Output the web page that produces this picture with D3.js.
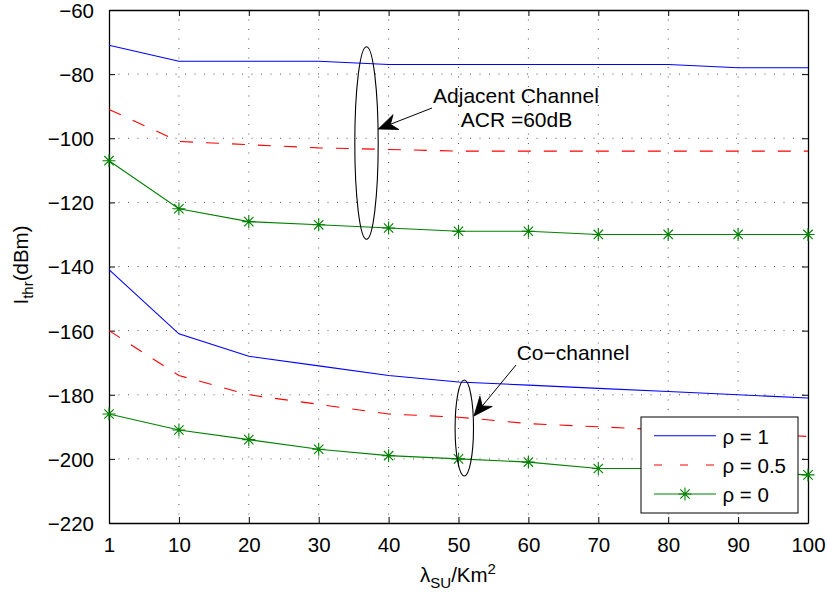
<!DOCTYPE html>
<html>
<head>
<meta charset="utf-8">
<script src="https://cdn.jsdelivr.net/npm/d3@7"></script>
<style>
  html, body { margin: 0; padding: 0; background: #fff; }
  svg { display: block; }
  text { font-family: "Liberation Sans", Arial, Helvetica, sans-serif; fill: #000; }
</style>
</head>
<body>
<svg id="chart" width="828" height="599"></svg>
<script>
// ---- data ----
const xLabels = ["1", "10", "20", "30", "40", "50", "60", "70", "80", "90", "100"];
const yTicks = [-220, -200, -180, -160, -140, -120, -100, -80, -60];

const adjRho1  = [-71, -76, -76, -76, -77, -77, -77, -77, -77, -78, -78];
const adjRho05 = [-91, -101, -102, -103, -103.5, -104, -104, -104, -104, -104, -104];
const adjRho0  = [-107, -122, -126, -127, -128, -129, -129, -130, -130, -130, -130];

const coRho1  = [-141, -161, -168, -171, -174, -176, -177, -178, -179, -180, -181];
const coRho05 = [-160, -174, -180, -183, -186, -187, -189, -190, -191, -192, -193];
const coRho0  = [-186, -191, -194, -197, -199, -200, -201, -203, -203, -204, -205];

const seriesNames = ["ρ = 1", "ρ = 0.5", "ρ = 0"];

// ---- layout ----
const svg = d3.select("#chart");
const L = 109, R = 808, T = 10, B = 523;
const FS = 20.5;
const SFS = 15;

const x = d3.scalePoint().domain(xLabels).range([L, R]).padding(0);
const y = d3.scaleLinear().domain([-220, -60]).range([B, T]);

const styles = [
  { color: "#0000ff", dash: null, marker: false },
  { color: "#ff0000", dash: "13,13", marker: false },
  { color: "#008000", dash: null, marker: true }
];

// grid
const grid = svg.append("g");
xLabels.forEach((d, i) => {
  if (i === 0 || i === xLabels.length - 1) return;
  grid.append("line").attr("x1", x(d)).attr("x2", x(d)).attr("y1", T).attr("y2", B)
    .attr("stroke", "#555").attr("stroke-width", 1).attr("stroke-dasharray", "1,8.5");
});
yTicks.forEach(v => {
  if (v === -220 || v === -60) return;
  grid.append("line").attr("x1", L).attr("x2", R).attr("y1", y(v)).attr("y2", y(v))
    .attr("stroke", "#555").attr("stroke-width", 1).attr("stroke-dasharray", "1,8.5");
});

// axes (inside ticks on all sides)
const tl = 6;
const axB = svg.append("g").attr("transform", `translate(0,${B})`)
  .call(d3.axisBottom(x).tickSizeInner(-tl).tickSizeOuter(0));
const axT = svg.append("g").attr("transform", `translate(0,${T})`)
  .call(d3.axisTop(x).tickSizeInner(-tl).tickSizeOuter(0).tickFormat(""));
const axL = svg.append("g").attr("transform", `translate(${L},0)`)
  .call(d3.axisLeft(y).tickValues(yTicks).tickSizeInner(-tl).tickSizeOuter(0).tickPadding(tl + 9).tickFormat(d3.format("d")));
const axR = svg.append("g").attr("transform", `translate(${R},0)`)
  .call(d3.axisRight(y).tickValues(yTicks).tickSizeInner(-tl).tickSizeOuter(0).tickFormat(""));
[axB, axT, axL, axR].forEach(g => {
  g.selectAll("path.domain").attr("stroke", "#000").attr("stroke-width", 1.3);
  g.selectAll(".tick line").attr("stroke", "#000").attr("stroke-width", 1);
  g.selectAll("text").style("font-size", FS + "px").attr("fill", "#000")
    .style("font-family", '"Liberation Sans", Arial, sans-serif');
});
axB.selectAll("text").attr("dy", null).attr("y", 28.5);
axL.selectAll("text").attr("dy", "0.36em");
axL.selectAll("text").text(d => d3.format("d")(d).replace("-", "\u2212"));

// lines
const line = d3.line().x((d, i) => x(xLabels[i])).y(d => y(d));
const plot = svg.append("g");

function star(g, cx, cy, color) {
  const r = 6.5, rd = r * 0.72;
  const p = `M${cx - r},${cy}L${cx + r},${cy}M${cx},${cy - r}L${cx},${cy + r}` +
            `M${cx - rd},${cy - rd}L${cx + rd},${cy + rd}M${cx - rd},${cy + rd}L${cx + rd},${cy - rd}`;
  g.append("path").attr("d", p).attr("stroke", color).attr("stroke-width", 1.1).attr("fill", "none");
}

[[adjRho1, adjRho05, adjRho0], [coRho1, coRho05, coRho0]].forEach(group => {
  group.forEach((vals, k) => {
    const s = styles[k];
    const p = plot.append("path").datum(vals).attr("d", line)
      .attr("fill", "none").attr("stroke", s.color).attr("stroke-width", 1.1);
    if (s.dash) p.attr("stroke-dasharray", s.dash);
    if (s.marker) vals.forEach((v, i) => star(plot, x(xLabels[i]), y(v), s.color));
  });
});

// annotations: ellipses and arrows
const ann = svg.append("g");
ann.append("ellipse").attr("cx", 366.5).attr("cy", 143).attr("rx", 11.7).attr("ry", 96.3)
  .attr("fill", "none").attr("stroke", "#000").attr("stroke-width", 1.1);
ann.append("ellipse").attr("cx", 464.3).attr("cy", 428).attr("rx", 9.2).attr("ry", 48)
  .attr("fill", "none").attr("stroke", "#000").attr("stroke-width", 1.1);

function arrow(x1, y1, x2, y2) {
  ann.append("line").attr("x1", x1).attr("y1", y1).attr("x2", x2).attr("y2", y2)
    .attr("stroke", "#000").attr("stroke-width", 1);
  const ang = Math.atan2(y2 - y1, x2 - x1);
  const len = 19, hw = 8, back = 13;
  const ux = Math.cos(ang), uy = Math.sin(ang);
  const px = -uy, py = ux;
  const bx = x2 - ux * len, by = y2 - uy * len;
  const cx = x2 - ux * back, cy = y2 - uy * back;
  const d = `M${x2},${y2}L${bx + px * hw},${by + py * hw}L${cx},${cy}L${bx - px * hw},${by - py * hw}Z`;
  ann.append("path").attr("d", d).attr("fill", "#000").attr("stroke", "#000").attr("stroke-width", 0.8);
}
arrow(432, 108, 378.3, 129);
arrow(516, 365, 474, 416);

const AFS = 21;
ann.append("text").attr("x", 516).attr("y", 102.5).attr("text-anchor", "middle")
  .style("font-size", AFS + "px").text("Adjacent Channel");
ann.append("text").attr("x", 516.5).attr("y", 127).attr("text-anchor", "middle")
  .style("font-size", AFS + "px").text("ACR =60dB");
ann.append("text").attr("x", 573).attr("y", 360).attr("text-anchor", "middle")
  .style("font-size", AFS + "px").text("Co\u2212channel");

// axis labels
const yl = svg.append("text").attr("transform", "translate(28,265) rotate(-90)")
  .attr("text-anchor", "middle").style("font-size", FS + "px");
yl.append("tspan").text("I");
yl.append("tspan").attr("dy", 5).style("font-size", SFS + "px").text("thr");
yl.append("tspan").attr("dy", -5).text("(dBm)");

const xl = svg.append("text").attr("x", 458).attr("y", 582)
  .attr("text-anchor", "middle").style("font-size", FS + "px");
xl.append("tspan").text("λ");
xl.append("tspan").attr("dy", 6).style("font-size", SFS + "px").text("SU");
xl.append("tspan").attr("dy", -6).text("/Km");
xl.append("tspan").attr("dy", -8).style("font-size", SFS + "px").text("2");

// legend
const lg = svg.append("g");
lg.append("rect").attr("x", 641).attr("y", 417).attr("width", 157).attr("height", 96)
  .attr("fill", "#fff").attr("stroke", "#000").attr("stroke-width", 1);
const legY = [435.7, 465, 494];
seriesNames.forEach((name, k) => {
  const s = styles[k];
  const ln = lg.append("line").attr("x1", 654).attr("x2", 716).attr("y1", legY[k]).attr("y2", legY[k])
    .attr("stroke", s.color).attr("stroke-width", 1.1);
  if (s.dash) ln.attr("stroke-dasharray", "8,18").attr("stroke-dashoffset", 0);
  if (s.marker) star(lg, 685, legY[k], s.color);
  lg.append("text").attr("x", 722.5).attr("y", legY[k] + 8).style("font-size", FS + "px").text(name);
});
</script>
</body>
</html>
